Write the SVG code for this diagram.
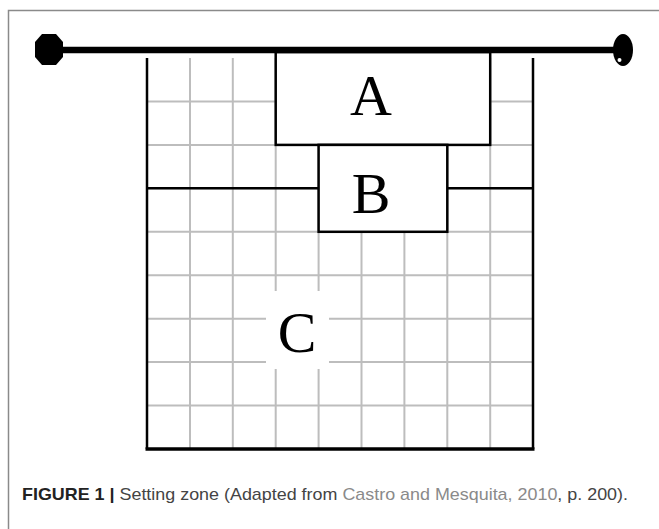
<svg xmlns="http://www.w3.org/2000/svg" width="659" height="529" viewBox="0 0 659 529">
<style>
.frame{stroke:#8a8a8a;stroke-width:1.5;fill:none}
.grid{stroke:#bdbdbd;stroke-width:2;fill:none}
.blk{stroke:#000;stroke-width:2.5;fill:none}
.zone{fill:#fff;stroke:#000;stroke-width:2.5}
.lbl{font-family:"Liberation Serif","Times New Roman",serif;font-size:58px;fill:#000;text-anchor:middle}
.cap{font-family:"Liberation Sans",Arial,sans-serif;font-size:17px;fill:#444}
</style>
<rect width="659" height="529" fill="#fff"/>
<path class="frame" d="M8.5,529 V10.5 H659"/>
<g id="grid">
<path class="grid" d="M190,58V449M232.8,58V449M275.7,58V449M318.6,58V449M361.5,58V449M404.4,58V449M447.3,58V449M490.2,58V449"/>
<path class="grid" d="M147,101.4H533M147,144.9H533M147,188.3H533M147,231.8H533M147,275.2H533M147,318.7H533M147,362.1H533M147,405.6H533"/>
</g>
<g id="zoneC">
<rect x="266" y="291" width="63" height="78" fill="#fff"/>
<path class="blk" d="M147,58V449M533,58V449M147,188.3H318.6M447.3,188.3H533"/>
<path stroke="#000" stroke-width="3.5" d="M145.5,449H534.5"/>
<text class="lbl" x="297" y="352">C</text>
</g>
<g id="zoneA">
<rect class="zone" x="275.7" y="52" width="214.5" height="92.9"/>
<text class="lbl" x="371" y="115">A</text>
</g>
<g id="zoneB">
<rect class="zone" x="318.6" y="144.9" width="128.7" height="86.9"/>
<text class="lbl" x="371" y="213">B</text>
</g>
<g id="net">
<path stroke="#000" stroke-width="6.5" d="M45,50H620"/>
<polygon fill="#000" points="42,34 56,34 63,42 63,57 56,65 42,65 35,57 35,42"/>
<ellipse cx="623" cy="50" rx="10" ry="16" fill="#000"/>
<circle cx="619.5" cy="60" r="2" fill="#fff"/>
</g>
<text class="cap" x="22" y="500" textLength="606" lengthAdjust="spacingAndGlyphs"><tspan font-weight="bold" fill="#222">FIGURE 1 |</tspan> Setting zone (Adapted from <tspan fill="#8a8a8a">Castro and Mesquita, 2010</tspan>, p. 200).</text>
</svg>
